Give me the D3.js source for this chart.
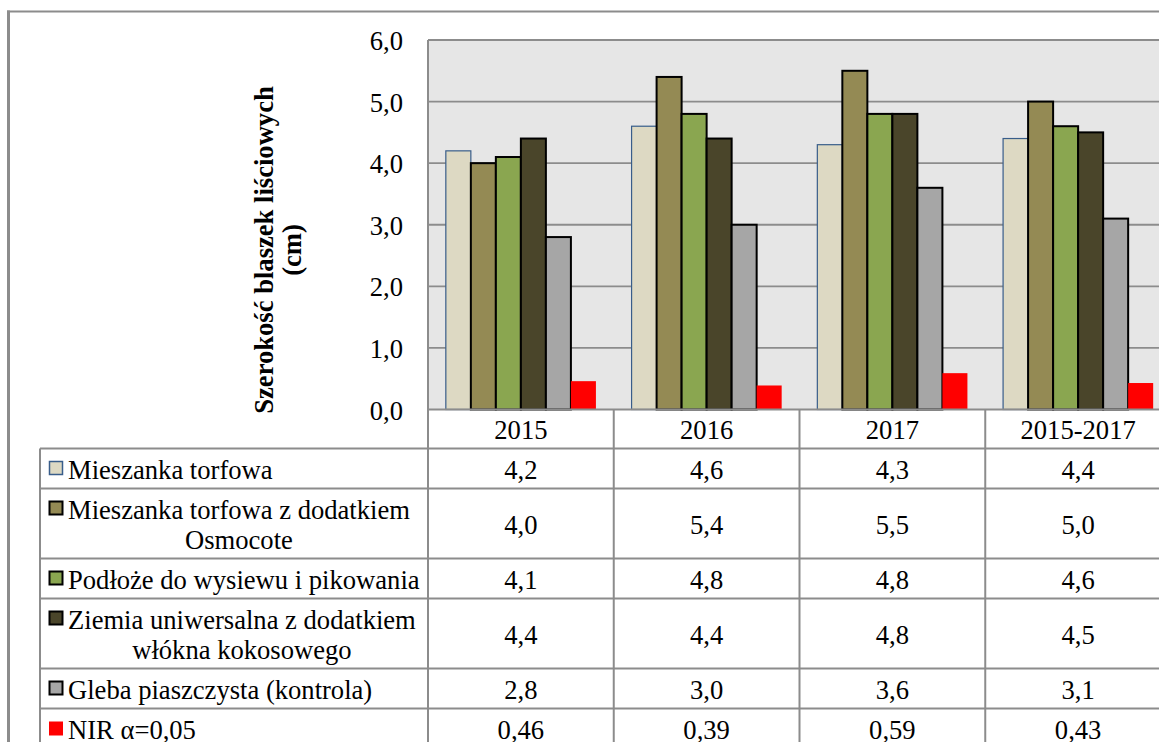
<!DOCTYPE html>
<html>
<head>
<meta charset="utf-8">
<script src="https://cdn.jsdelivr.net/npm/d3@7"></script>
<style>
  html, body { margin: 0; padding: 0; background: #fff; overflow: hidden; }
  svg { display: block; font-family: "Liberation Serif", "Times New Roman", serif; }
</style>
</head>
<body>
<svg id="chart" width="1159" height="742"></svg>
<script>
// Categories (years) and series values
const categories = ["2015", "2016", "2017", "2015-2017"];
const seriesNames = [
  ["Mieszanka torfowa"],
  ["Mieszanka torfowa z dodatkiem", "Osmocote"],
  ["Podłoże do wysiewu i pikowania"],
  ["Ziemia uniwersalna z dodatkiem", "włókna kokosowego"],
  ["Gleba piaszczysta (kontrola)"],
  ["NIR α=0,05"]
];
const mieszankaTorfowa = [4.2, 4.6, 4.3, 4.4];
const mieszankaOsmocote = [4.0, 5.4, 5.5, 5.0];
const podloze = [4.1, 4.8, 4.8, 4.6];
const ziemiaKokos = [4.4, 4.4, 4.8, 4.5];
const glebaKontrola = [2.8, 3.0, 3.6, 3.1];
const nir = [0.46, 0.39, 0.59, 0.43];
const yTicks = [0, 1, 2, 3, 4, 5, 6];

const seriesValues = [mieszankaTorfowa, mieszankaOsmocote, podloze, ziemiaKokos, glebaKontrola, nir];
const fills = ["#DDD9C3", "#948A54", "#8AA650", "#4A452A", "#A6A6A6", "#FF0000"];
const strokes = ["#385D8A", "#000", "#000", "#000", "#000", "none"];
const strokeW = [1.2, 2, 2, 2, 2, 0];
const digits = [1, 1, 1, 1, 1, 2];

const pl = d3.formatLocale({ decimal: ",", thousands: " ", grouping: [3], currency: ["", " zł"] });

const svg = d3.select("#chart");
const gridColor = "#8C8C8C";
const fontSize = 26.6;

// Plot area geometry
const plotLeft = 428, plotTop = 40, plotBottom = 409.5, plotRight = 1171;
const tableLeft = 40;

const x = d3.scaleBand().domain(categories).range([plotLeft, plotRight]).padding(0);
const groupW = x.bandwidth() * 0.808;
const xs = d3.scaleBand().domain(d3.range(seriesValues.length)).range([0, groupW]).padding(0);
const y = d3.scaleLinear().domain([0, 6]).range([plotBottom, plotTop]);

// Outer frame
svg.append("line").attr("x1", 8.5).attr("x2", 8.5).attr("y1", 10.5).attr("y2", 742)
  .attr("stroke", gridColor).attr("stroke-width", 3);
svg.append("line").attr("x1", 7).attr("x2", 1159).attr("y1", 11.5).attr("y2", 11.5)
  .attr("stroke", gridColor).attr("stroke-width", 2);

// Plot background
svg.append("rect").attr("x", plotLeft).attr("y", plotTop)
  .attr("width", plotRight - plotLeft).attr("height", plotBottom - plotTop)
  .attr("fill", "#E6E6E6");

// Horizontal gridlines
svg.append("g").selectAll("line").data(yTicks.filter(d => d > 0)).join("line")
  .attr("x1", plotLeft).attr("x2", plotRight)
  .attr("y1", d => y(d)).attr("y2", d => y(d))
  .attr("stroke", gridColor).attr("stroke-width", 1.8);

// Y axis tick labels
const fmt1 = pl.format(".1f");
svg.append("g").selectAll("text").data(yTicks).join("text")
  .attr("x", 403).attr("y", d => y(d) + 1)
  .attr("text-anchor", "end").attr("dominant-baseline", "central")
  .attr("font-size", fontSize).attr("fill", "#000")
  .text(d => fmt1(d));

// Y axis title
const titleLines = ["Szerokość blaszek liściowych", "(cm)"];
svg.append("g").selectAll("text").data(titleLines).join("text")
  .attr("transform", (d, i) => `translate(${273 + i * 28},250) rotate(-90)`)
  .attr("text-anchor", "middle").attr("font-weight", "bold")
  .attr("font-size", fontSize).attr("fill", "#000")
  .text(d => d);

// Bars
const barsG = svg.append("g");
seriesValues.forEach((vals, si) => {
  barsG.append("g").selectAll("rect").data(vals).join("rect")
    .attr("x", (d, ci) => x(categories[ci]) + (x.bandwidth() - groupW) / 2 + xs(si))
    .attr("y", d => y(d))
    .attr("width", xs.bandwidth())
    .attr("height", d => plotBottom - y(d))
    .attr("fill", fills[si])
    .attr("stroke", strokes[si])
    .attr("stroke-width", strokeW[si]);
});

// Left edge of plot and category axis line
svg.append("line").attr("x1", plotLeft).attr("x2", plotLeft).attr("y1", plotTop).attr("y2", 742)
  .attr("stroke", gridColor).attr("stroke-width", 2);
svg.append("line").attr("x1", plotLeft).attr("x2", plotRight).attr("y1", plotTop).attr("y2", plotTop)
  .attr("stroke", gridColor).attr("stroke-width", 1.8);
svg.append("line").attr("x1", plotLeft).attr("x2", plotRight).attr("y1", plotBottom).attr("y2", plotBottom)
  .attr("stroke", gridColor).attr("stroke-width", 2);

// Data table
const headerBottom = 448.5;
const rowH = seriesNames.map(l => 40 + 30 * (l.length - 1));
const rowTop = [];
let acc = headerBottom;
rowH.forEach(h => { rowTop.push(acc); acc += h; });

const table = svg.append("g");
// Column separators
table.selectAll("line.col").data(categories.slice(1)).join("line")
  .attr("class", "col")
  .attr("x1", d => x(d)).attr("x2", d => x(d))
  .attr("y1", plotBottom).attr("y2", 742)
  .attr("stroke", gridColor).attr("stroke-width", 2);
table.append("line").attr("x1", tableLeft).attr("x2", tableLeft)
  .attr("y1", headerBottom).attr("y2", 742)
  .attr("stroke", gridColor).attr("stroke-width", 2);
// Row separators
table.selectAll("line.row").data(rowTop).join("line")
  .attr("class", "row")
  .attr("x1", tableLeft).attr("x2", plotRight)
  .attr("y1", d => d).attr("y2", d => d)
  .attr("stroke", gridColor).attr("stroke-width", 2);

// Header labels
table.selectAll("text.head").data(categories).join("text")
  .attr("class", "head")
  .attr("x", d => x(d) + x.bandwidth() / 2)
  .attr("y", (plotBottom + headerBottom) / 2 + 1)
  .attr("text-anchor", "middle").attr("dominant-baseline", "central")
  .attr("font-size", fontSize).attr("fill", "#000")
  .text(d => d);

// Legend keys, names and values per row
seriesNames.forEach((lines, si) => {
  const top = rowTop[si];
  const firstY = top + 20;
  // key square
  table.append("rect")
    .attr("x", si === 5 ? 49 : 49.5).attr("y", firstY - 7)
    .attr("width", si === 5 ? 14 : 13).attr("height", si === 5 ? 14 : 13)
    .attr("fill", fills[si])
    .attr("stroke", strokes[si])
    .attr("stroke-width", si === 0 ? 1.5 : strokeW[si]);
  // name lines: first line left-aligned, continuation centred under it
  const first = table.append("text")
    .attr("x", 68).attr("y", firstY + 1)
    .attr("dominant-baseline", "central")
    .attr("font-size", fontSize).attr("fill", "#000")
    .text(lines[0]);
  const w = first.node().getComputedTextLength();
  lines.slice(1).forEach((ln, li) => {
    table.append("text")
      .attr("x", 68 + w / 2).attr("y", firstY + 1 + 30 * (li + 1))
      .attr("text-anchor", "middle").attr("dominant-baseline", "central")
      .attr("font-size", fontSize).attr("fill", "#000")
      .text(ln);
  });
  // values
  const f = pl.format(`.${digits[si]}f`);
  table.append("g").selectAll("text").data(seriesValues[si]).join("text")
    .attr("x", (d, ci) => x(categories[ci]) + x.bandwidth() / 2)
    .attr("y", top + rowH[si] / 2 + 1)
    .attr("text-anchor", "middle").attr("dominant-baseline", "central")
    .attr("font-size", fontSize).attr("fill", "#000")
    .text(d => f(d));
});
</script>
</body>
</html>
